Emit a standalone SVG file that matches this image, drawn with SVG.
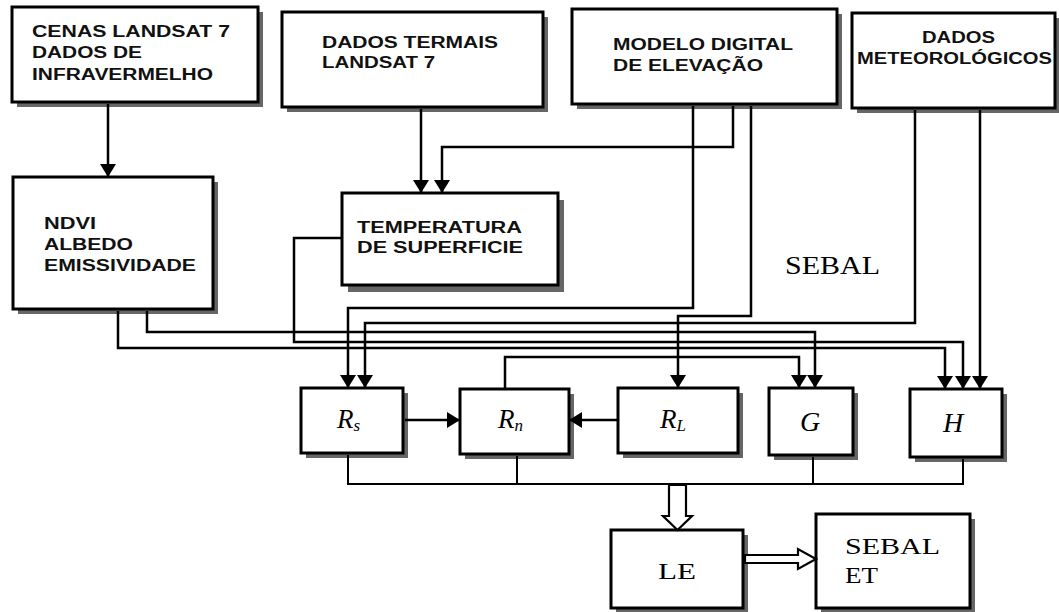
<svg xmlns="http://www.w3.org/2000/svg" width="1059" height="612" viewBox="0 0 1059 612">
<defs>
<style>
.box{fill:#fff;stroke:#000;stroke-width:3}
.sh{fill:#666}
.lbl{font-family:"Liberation Sans",Arial,sans-serif;font-weight:bold;font-size:16px;fill:#111}
.ser{font-family:"Liberation Serif","Times New Roman",serif;fill:#000}
.math{font-family:"Liberation Serif","Times New Roman",serif;font-style:italic;fill:#000}
.ln{fill:none;stroke:#000;stroke-width:2.5}
.thin{fill:none;stroke:#000;stroke-width:2}
.hollow{fill:#fff;stroke:#000;stroke-width:2.2;stroke-linejoin:miter}
</style>
<marker id="ah" markerUnits="userSpaceOnUse" viewBox="0 0 13 16" refX="13" refY="8" markerWidth="13" markerHeight="16" orient="auto">
<path d="M0,0 L13,8 L0,16 z" fill="#000"/>
</marker>
</defs>
<rect width="1059" height="612" fill="#fff"/>

<g id="n-cenas">
<rect class="sh" x="17" y="12" width="246" height="95"/>
<rect class="box" x="12" y="7" width="246" height="95"/>
<text class="lbl" x="32" y="37" textLength="198" lengthAdjust="spacingAndGlyphs">CENAS LANDSAT 7</text>
<text class="lbl" x="32" y="58" textLength="110" lengthAdjust="spacingAndGlyphs">DADOS DE</text>
<text class="lbl" x="32" y="80" textLength="181" lengthAdjust="spacingAndGlyphs">INFRAVERMELHO</text>
</g>

<g id="n-termais">
<rect class="sh" x="287" y="17" width="261" height="95"/>
<rect class="box" x="282" y="12" width="261" height="95"/>
<text class="lbl" x="322" y="48" textLength="176" lengthAdjust="spacingAndGlyphs">DADOS TERMAIS</text>
<text class="lbl" x="322" y="68" textLength="113" lengthAdjust="spacingAndGlyphs">LANDSAT 7</text>
</g>

<g id="n-mde">
<rect class="sh" x="577" y="14" width="265" height="95"/>
<rect class="box" x="572" y="9" width="265" height="95"/>
<text class="lbl" x="613" y="50" textLength="180" lengthAdjust="spacingAndGlyphs">MODELO DIGITAL</text>
<text class="lbl" x="613" y="71" textLength="150" lengthAdjust="spacingAndGlyphs">DE ELEVAÇÃO</text>
</g>

<g id="n-meteo">
<rect class="sh" x="857" y="18" width="203" height="95"/>
<rect class="box" x="852" y="13" width="203" height="95"/>
<text class="lbl" x="922" y="43" textLength="73" lengthAdjust="spacingAndGlyphs">DADOS</text>
<text class="lbl" x="857" y="64" textLength="195" lengthAdjust="spacingAndGlyphs">METEOROLÓGICOS</text>
</g>

<g id="n-ndvi">
<rect class="sh" x="18" y="182" width="200" height="132"/>
<rect class="box" x="13" y="177" width="200" height="132"/>
<text class="lbl" x="44" y="229" textLength="52" lengthAdjust="spacingAndGlyphs">NDVI</text>
<text class="lbl" x="44" y="250" textLength="89" lengthAdjust="spacingAndGlyphs">ALBEDO</text>
<text class="lbl" x="44" y="271" textLength="152" lengthAdjust="spacingAndGlyphs">EMISSIVIDADE</text>
</g>

<g id="n-temp">
<rect class="sh" x="348" y="200" width="216" height="92"/>
<rect class="box" x="342" y="193" width="216" height="92"/>
<text class="lbl" x="357" y="233" textLength="165" lengthAdjust="spacingAndGlyphs">TEMPERATURA</text>
<text class="lbl" x="357" y="253" textLength="166" lengthAdjust="spacingAndGlyphs">DE SUPERFICIE</text>
</g>

<g id="n-sebal-label">
<text class="ser" x="785" y="274" font-size="26" textLength="95" lengthAdjust="spacingAndGlyphs">SEBAL</text>
</g>

<g id="n-rs">
<rect class="sh" x="306" y="393" width="102" height="65"/>
<rect class="box" x="301" y="388" width="102" height="65"/>
<text class="math" x="337" y="428" font-size="27">R<tspan font-size="17" dy="3">s</tspan></text>
</g>

<g id="n-rn">
<rect class="sh" x="465" y="394" width="109" height="65"/>
<rect class="box" x="460" y="389" width="109" height="65"/>
<text class="math" x="498" y="428" font-size="27">R<tspan font-size="17" dy="3">n</tspan></text>
</g>

<g id="n-rl">
<rect class="sh" x="623" y="393" width="120" height="65"/>
<rect class="box" x="618" y="388" width="120" height="65"/>
<text class="math" x="660" y="428" font-size="27">R<tspan font-size="17" dy="3">L</tspan></text>
</g>

<g id="n-g">
<rect class="sh" x="774" y="393" width="84" height="67"/>
<rect class="box" x="769" y="388" width="84" height="67"/>
<text class="math" x="800" y="431" font-size="28">G</text>
</g>

<g id="n-h">
<rect class="sh" x="915" y="394" width="92" height="68"/>
<rect class="box" x="910" y="389" width="92" height="68"/>
<text class="math" x="943" y="432" font-size="28">H</text>
</g>

<g id="n-le">
<rect class="sh" x="616" y="535" width="132" height="78"/>
<rect class="box" x="611" y="530" width="132" height="78"/>
<text class="ser" x="658" y="579" font-size="24" textLength="38" lengthAdjust="spacingAndGlyphs">LE</text>
</g>

<g id="n-sebalet">
<rect class="sh" x="821" y="519" width="154" height="94"/>
<rect class="box" x="816" y="514" width="154" height="94"/>
<text class="ser" x="845" y="554" font-size="24" textLength="95" lengthAdjust="spacingAndGlyphs">SEBAL</text>
<text class="ser" x="845" y="583" font-size="24" textLength="33" lengthAdjust="spacingAndGlyphs">ET</text>
</g>

<g id="connectors">
<path class="ln" d="M108,104 V177" marker-end="url(#ah)"/>
<path class="ln" d="M421,109 V193" marker-end="url(#ah)"/>
<path class="ln" d="M733,106 V147 H442 V193" marker-end="url(#ah)"/>
<path class="ln" d="M693,106 V308 H348 V388" marker-end="url(#ah)"/>
<path class="ln" d="M751,106 V316 H678 V388" marker-end="url(#ah)"/>
<path class="ln" d="M915,110 V323 H365 V388" marker-end="url(#ah)"/>
<path class="ln" d="M980,110 V389" marker-end="url(#ah)"/>
<path class="ln" d="M147,311 V332 H815 V388" marker-end="url(#ah)"/>
<path class="ln" d="M341,238 H294 V342 H963 V389" marker-end="url(#ah)"/>
<path class="ln" d="M118,311 V348 H945 V389" marker-end="url(#ah)"/>
<path class="ln" d="M505,388 V357 H799 V388" marker-end="url(#ah)"/>
<path class="ln" d="M405,420 H460" marker-end="url(#ah)"/>
<path class="ln" d="M617,420 H569" marker-end="url(#ah)"/>
<path class="thin" d="M348,455 V484 H963 V459"/>
<path class="thin" d="M517,456 V484"/>
<path class="thin" d="M813,457 V484"/>
<polygon class="hollow" points="669,485 686,485 686,516 692,516 677.5,530 663,516 669,516"/>
<polygon class="hollow" points="745,555 798,555 798,549 816,559 798,569 798,563 745,563"/>
</g>
</svg>
